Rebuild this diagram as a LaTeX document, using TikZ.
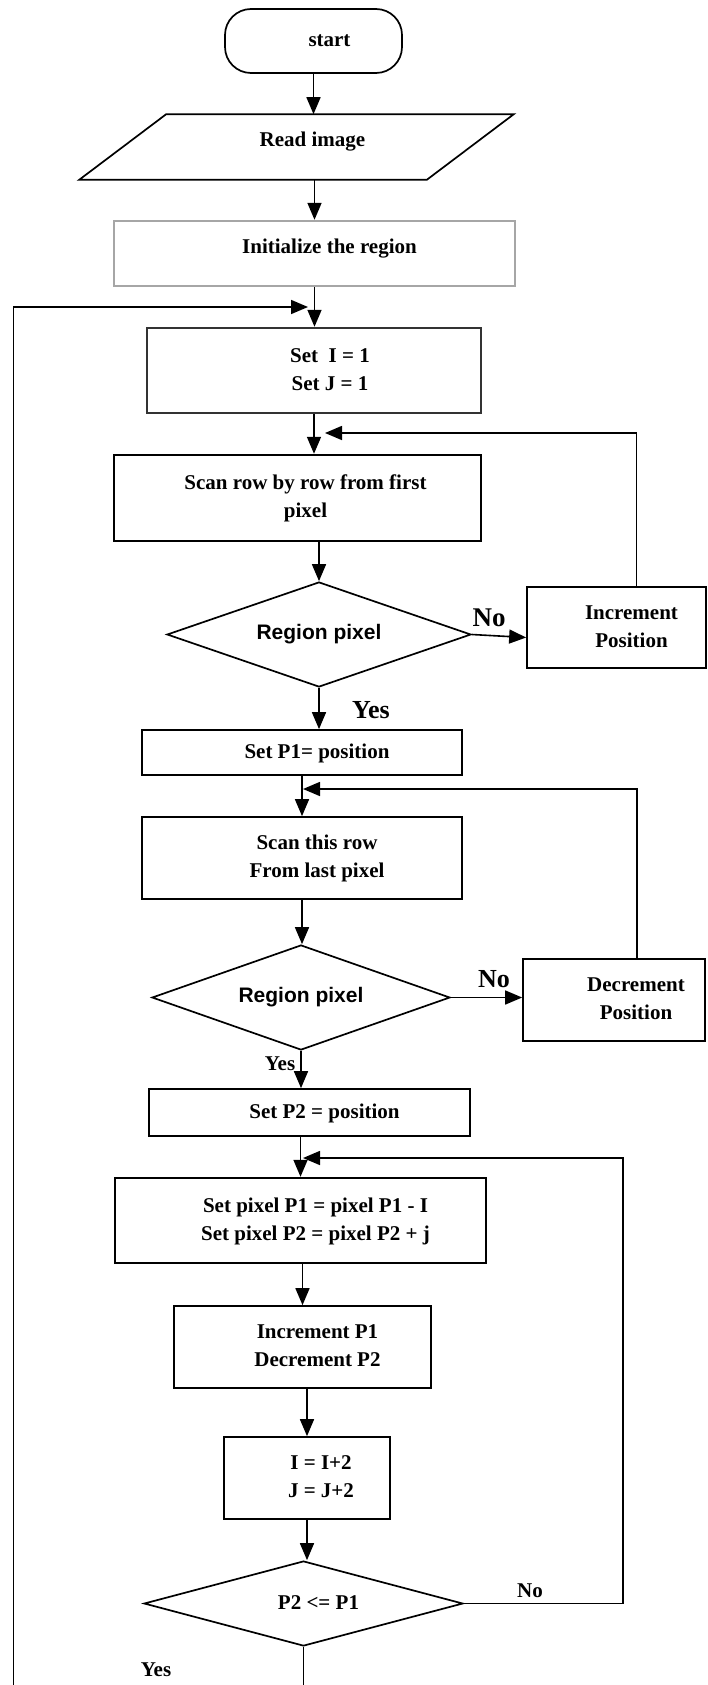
\documentclass[tikz,border=0pt]{standalone}
\usepackage{fontspec}
\setmainfont{Liberation Serif}
\newfontfamily\arialfont{Liberation Sans}
\usetikzlibrary{shapes.geometric,arrows.meta}

% text sits a little right of the box centre
\newcommand{\offtext}[2][15pt]{\hspace*{#1}\begin{tabular}{@{}c@{}}#2\end{tabular}}

\tikzset{
  box/.style={draw, line width=0.85pt, align=center, inner sep=2pt},
  thickbox/.style={box, line width=1.2pt},
  decision/.style={draw, diamond, aspect=3, inner sep=0pt, line width=0.85pt},
  lbl/.style={inner sep=0pt, font=\fontsize{10.5}{13}\selectfont\bfseries},
  biglbl/.style={inner sep=0pt, font=\fontsize{13.5}{16}\selectfont\bfseries},
}

\begin{document}
\begin{tikzpicture}[x=0.5pt, y=-0.5pt, line width=0.8pt,
  >={Triangle[length=8.5pt,width=7pt]},
  font=\fontsize{10.5}{14}\selectfont\bfseries]
  \useasboundingbox (0,0) rectangle (707,1685);

  \node[box, rounded corners=13pt, minimum width=88.5pt, minimum height=32pt]
    (start) at (313.5,41) {\offtext[16pt]{start}};
  \node[inner sep=0pt, minimum width=129.5pt, minimum height=32pt]
    (read) at (296.5,147) {\offtext[16pt]{\raisebox{4pt}{Read image}}};
  \draw[line width=0.85pt] (read.north west) -- ([xshift=43.5pt]read.north east) --
    (read.south east) -- ([xshift=-43.5pt]read.south west) -- cycle;
  \node[box, draw=gray!70, line width=1.2pt, minimum width=200.5pt,
    minimum height=32.5pt] (init) at (314.5,253.5)
    {\offtext{\raisebox{3pt}{Initialize the region}}};
  \node[thickbox, draw=black!80, minimum width=167pt, minimum height=42.5pt]
    (seti) at (314,370.5) {\offtext[16pt]{Set~~I = 1\\Set~J = 1}};
  \node[thickbox, minimum width=183.5pt, minimum height=43pt]
    (scanfirst) at (297.5,498) {\offtext[8pt]{Scan row by row from first\\pixel}};
  \node[decision, minimum width=152pt, minimum height=52.5pt,
    font=\arialfont\fontsize{10.5}{13}\selectfont\bfseries]
    (regionone) at (319,634.5) {Region pixel};
  \node[box, minimum width=89.5pt, minimum height=40.5pt]
    (incpos) at (616.5,627.5) {\offtext{Increment\\Position}};
  \node[box, minimum width=160pt, minimum height=22.5pt]
    (setpone) at (302,752.5) {\offtext{Set P1= position}};
  \node[box, minimum width=160pt, minimum height=41pt]
    (scanlast) at (302,858) {\offtext{Scan this row\\From last pixel}};
  \node[decision, minimum width=149pt, minimum height=52.5pt,
    font=\arialfont\fontsize{10.5}{13}\selectfont\bfseries]
    (regiontwo) at (301,997.5) {Region pixel};
  \node[box, minimum width=91pt, minimum height=41pt]
    (decpos) at (614,1000) {\offtext[22pt]{Decrement\\Position}};
  \node[box, minimum width=160.5pt, minimum height=23.5pt]
    (setptwo) at (309.5,1112.5) {\offtext{Set P2 = position}};
  \node[thickbox, minimum width=185.5pt, minimum height=42.5pt]
    (setpix) at (300.5,1220.5)
    {\offtext{Set pixel P1 = pixel P1 - I\\Set pixel P2 = pixel P2 + j}};
  \node[box, minimum width=128.5pt, minimum height=41pt]
    (incdec) at (302.5,1347) {\offtext{Increment P1\\Decrement P2}};
  \node[box, minimum width=83pt, minimum height=41pt]
    (step2) at (307,1478) {\offtext[14pt]{I = I+2\\J = J+2}};
  \node[decision, minimum width=159.5pt, minimum height=42.5pt]
    (test) at (303.5,1603.5) {\offtext{P2 <= P1}};

  % branch labels
  \node[biglbl] (noone) at (489,618) {No};
  \node[biglbl, font=\fontsize{13}{16}\selectfont\bfseries] (yesone) at (371,710) {Yes};
  \node[biglbl, font=\fontsize{13}{16}\selectfont\bfseries] (notwo) at (494,979) {No};
  \node[lbl] (yestwo) at (280,1064) {Yes};
  \node[lbl] (nothree) at (530,1591) {No};
  \node[lbl] (yesthree) at (156,1670) {Yes};

  \coordinate (loopin) at (13.5,1685);
  \coordinate (backzero) at (308,307);
  \coordinate (backone) at (325,433);
  \coordinate (backtwo) at (303,789);
  \coordinate (backthree) at (303,1158);
  \coordinate (yesout) at (303.5,1685);

  \draw[->] (start.south) -- (start.south |- read.north);
  \draw[->] (init.north |- read.south) -- (init.north);
  \draw[->] (init.south) -- (init.south |- seti.north);
  \draw[->] (loopin) |- (backzero);
  \draw[->] (seti.south) -- (seti.south |- scanfirst.north);
  \draw[->] ([xshift=10pt]incpos.north) |- (backone);
  \draw[->] (scanfirst.south -| regionone.north) -- (regionone.north);
  \draw[->] (regionone.east) -- ([yshift=-1.5pt]regionone.east -| incpos.west);
  \draw[->] (regionone.south) -- (regionone.south |- setpone.north);
  \draw[->] (setpone.south) -- (setpone.south |- scanlast.north);
  \draw[->] ([xshift=11.5pt]decpos.north) |- (backtwo);
  \draw[->] (scanlast.south) -- (scanlast.south |- regiontwo.north);
  \draw[->] (regiontwo.east) -- (regiontwo.east -| decpos.west);
  \draw[->] (regiontwo.south) -- (regiontwo.south |- setptwo.north);
  \draw[->] (setpix.north |- setptwo.south) -- (setpix.north);
  \draw[->] (test.east) -- ++(159,0) |- (backthree);
  \draw[->] (setpix.south -| incdec.north) -- (incdec.north);
  \draw[->] (step2.north |- incdec.south) -- (step2.north);
  \draw[->] (step2.south) -- (step2.south |- test.north);
  \draw (test.south) -- (test.south |- yesout);
\end{tikzpicture}
\end{document}
